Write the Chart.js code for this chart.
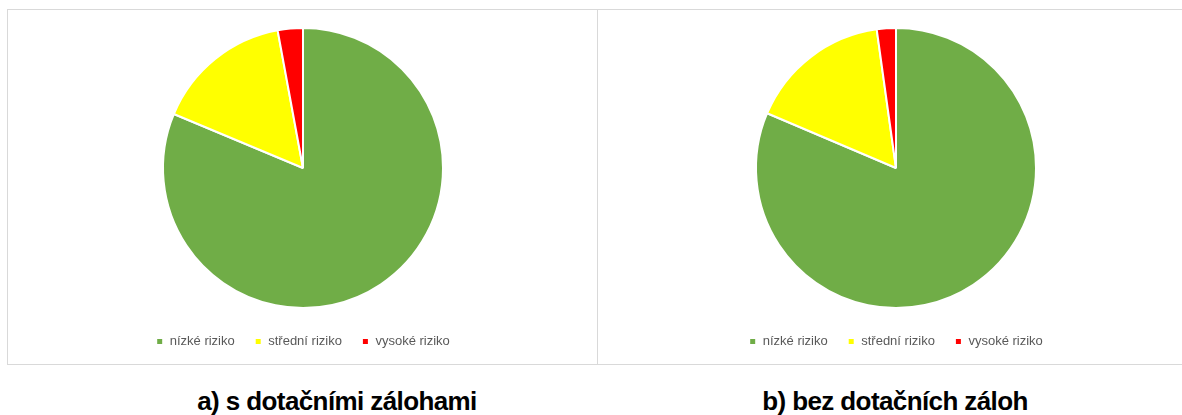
<!DOCTYPE html>
<html>
<head>
<meta charset="utf-8">
<script src="https://cdn.jsdelivr.net/npm/chart.js@4"></script>
<style>
  html, body { margin: 0; padding: 0; background: #fff; overflow: hidden; }
  body { width: 1182px; height: 415px; position: relative; }
  .panel { position: absolute; top: 9px; height: 354px; border: 1px solid #d9d9d9; background: #fff; }
  #pa { left: 7px; width: 590px; }
  #pb { left: 597px; width: 640px; border-right: none; }
  .panel canvas { position: absolute; left: 0; top: 0; }
  .cap { position: absolute; top: 386px; font-family: "Liberation Sans", sans-serif;
         font-weight: bold; font-size: 26px; letter-spacing: -0.6px; color: #000; white-space: nowrap; transform: translateX(-50%); }
</style>
</head>
<body>
<div class="panel" id="pa"><canvas id="chartA" width="590" height="354"></canvas></div>
<div class="panel" id="pb"><canvas id="chartB" width="596" height="354"></canvas></div>
<div class="cap" style="left:337px">a) s dotačními zálohami</div>
<div class="cap" style="left:895px">b) bez dotačních záloh</div>
<script>
const kategorie = ['nízké riziko', 'střední riziko', 'vysoké riziko'];
const sZalohami = [81.3, 15.8, 2.9];
const bezZaloh = [81.4, 16.4, 2.2];
const barvy = ['#70AD47', '#FFFF00', '#FF0000'];

// posune legendu o kousek niz, aby sedela jako v Excelu
const legendaNiz = {
  id: 'legendaNiz',
  afterLayout(chart) {
    chart.legend.top += 6;
    chart.legend.bottom += 6;
  }
};

function kolac(id, hodnoty) {
  const ctx = document.getElementById(id).getContext('2d');
  return new Chart(ctx, {
    type: 'pie',
    data: {
      labels: kategorie,
      datasets: [{
        data: hodnoty,
        backgroundColor: barvy,
        borderColor: '#ffffff',
        borderWidth: 2
      }]
    },
    options: {
      responsive: false,
      animation: false,
      layout: { padding: { top: 17, bottom: 12 } },
      plugins: {
        legend: {
          position: 'bottom',
          labels: {
            boxWidth: 7,
            boxHeight: 7,
            padding: 20,
            color: '#595959',
            font: { family: 'Liberation Sans', size: 13 }
          }
        },
        tooltip: { enabled: false }
      }
    },
    plugins: [legendaNiz]
  });
}

kolac('chartA', sZalohami);
kolac('chartB', bezZaloh);
</script>
</body>
</html>
